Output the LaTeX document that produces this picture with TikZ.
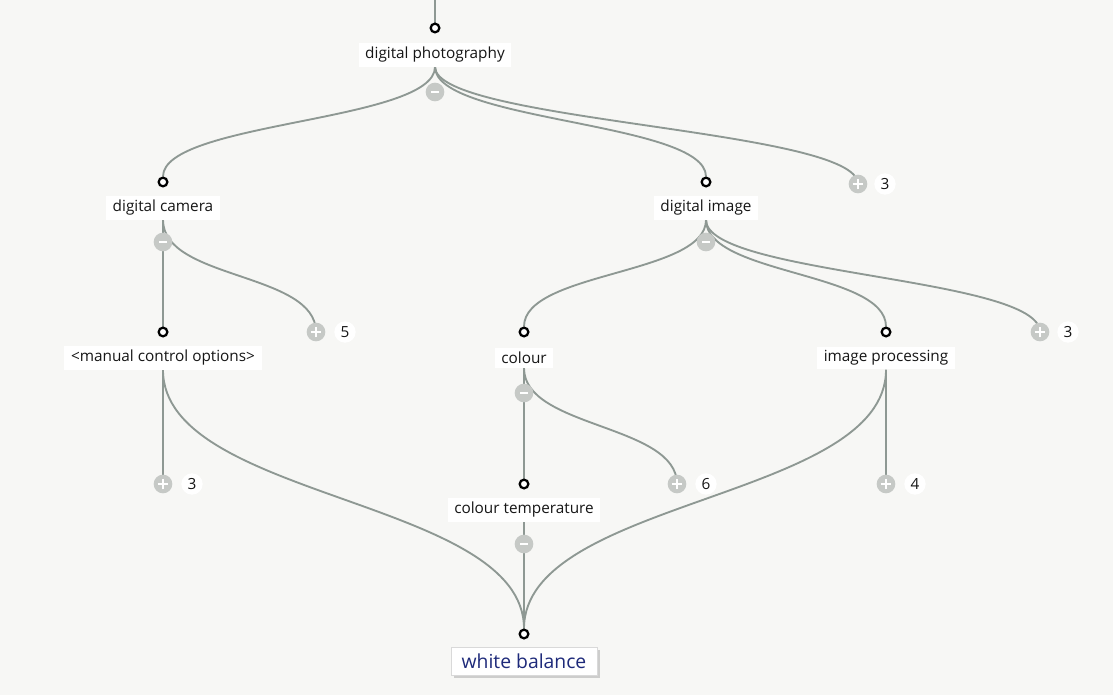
\documentclass[tikz,border=0pt]{standalone}
\usepackage{fontspec}
\setmainfont{Open Sans}
\usetikzlibrary{positioning,shadows,backgrounds}
\definecolor{linkgrey}{HTML}{8E9893}
\definecolor{btngrey}{HTML}{C6C9C6}
\definecolor{paper}{HTML}{F7F7F5}
\definecolor{navy}{HTML}{1E2A7A}
\definecolor{ink}{HTML}{161616}

\tikzset{
  knob/.style={circle,draw=black,fill=white,line width=1.7pt,inner sep=0pt,minimum size=6.5pt},
  lbl/.style={fill=white,text=ink,inner xsep=5pt,inner ysep=3pt,font=\fontsize{11.5}{13}\selectfont},
  link/.style={draw=linkgrey,line width=1.4pt},
  btn/.style={circle,fill=btngrey,inner sep=0pt,minimum size=14pt},
  minusbtn/.style={btn,path picture={
      \draw[white,line width=2pt] ([xshift=-3pt]path picture bounding box.center)
        -- ([xshift=3pt]path picture bounding box.center);}},
  plusbtn/.style={btn,path picture={
      \draw[white,line width=2pt] ([xshift=-4pt]path picture bounding box.center)
        -- ([xshift=4pt]path picture bounding box.center)
        ([yshift=-4pt]path picture bounding box.center)
        -- ([yshift=4pt]path picture bounding box.center);}},
  count/.style={circle,fill=white,text=ink,inner sep=1pt,minimum size=16pt,font=\fontsize{11.5}{13}\selectfont},
  target/.style={fill=white,text=navy,draw=black!15,inner xsep=8pt,inner ysep=5pt,
    font=\fontsize{14.5}{16}\selectfont,drop shadow={shadow xshift=2pt,shadow yshift=-2pt,opacity=0.35}}
}

\begin{document}
\begin{tikzpicture}[x=0.75pt,y=-0.75pt]
  \useasboundingbox (0,0) rectangle (1113,695);

  % digital photography
  \coordinate (top) at (435,0);
  \node[knob] (dpk) at (435,28) {};
  \node[lbl] (dpl) at (435,55) {digital photography};
  \node[minusbtn] (dpm) at (435,92) {};

  % second row
  \node[knob] (dck) at (163,182) {};
  \node[lbl] (dcl) at (163,208) {digital camera};
  \node[minusbtn] (dcm) at (163,242) {};
  \node[knob] (dik) at (706,182) {};
  \node[lbl] (dil) at (706,208) {digital image};
  \node[minusbtn] (dim) at (706,242) {};
  \node[plusbtn] (dpp) at (858,184) {};
  \node[count] (dpn) at (885,184) {3};

  % third row
  \node[knob] (mck) at (163,332) {};
  \node[lbl] (mcl) at (163,358) {<manual control options>};
  \node[plusbtn] (dcp) at (316,332) {};
  \node[count] (dcn) at (345,332) {5};
  \node[knob] (cok) at (524,332) {};
  \node[lbl] (col) at (524,358) {colour};
  \node[minusbtn] (com) at (524,393) {};
  \node[knob] (ipk) at (886,332) {};
  \node[lbl] (ipl) at (886,358) {image processing};
  \node[plusbtn] (dip) at (1040,332) {};
  \node[count] (din) at (1068,332) {3};

  % fourth row
  \node[plusbtn] (mcp) at (163,484) {};
  \node[count] (mcn) at (192,484) {3};
  \node[knob] (ctk) at (524,484) {};
  \node[lbl] (ctl) at (524,510) {colour temperature};
  \node[minusbtn] (ctm) at (524,544) {};
  \node[plusbtn] (cop) at (677,484) {};
  \node[count] (con) at (706,484) {6};
  \node[plusbtn] (ipp) at (886,484) {};
  \node[count] (ipn) at (915,484) {4};

  % white balance
  \node[knob] (wbk) at (524,634) {};
  \node[target] (wbl) at (524,661) {white balance};

  \begin{scope}[on background layer]
    \fill[paper] (0,0) rectangle (1113,695);
    \draw[link] (top) -- (dpk.north);
    \draw[link] (dpl.south) .. controls +(0,55) and +(0,-55) .. (dck.north);
    \draw[link] (dpl.south) .. controls +(0,55) and +(0,-55) .. (dik.north);
    \draw[link] (dpl.south) .. controls +(0,55) and +(0,-55) .. (dpp.center);
    \draw[link] (dcl.south) -- (mck.north);
    \draw[link] (dcl.south) .. controls +(0,60) and +(0,-60) .. (dcp.center);
    \draw[link] (dil.south) .. controls +(0,55) and +(0,-55) .. (cok.north);
    \draw[link] (dil.south) .. controls +(0,55) and +(0,-55) .. (ipk.north);
    \draw[link] (dil.south) .. controls +(0,55) and +(0,-55) .. (dip.center);
    \draw[link] (mcl.south) -- (mcp.center);
    \draw[link] (mcl.south) .. controls +(0,130) and +(0,-130) .. (wbk.north);
    \draw[link] (col.south) -- (ctk.north);
    \draw[link] (col.south) .. controls +(0,60) and +(0,-60) .. (cop.center);
    \draw[link] (ipl.south) -- (ipp.center);
    \draw[link] (ipl.south) .. controls +(0,130) and +(0,-130) .. (wbk.north);
    \draw[link] (ctl.south) -- (wbk.north);
  \end{scope}
\end{tikzpicture}
\end{document}
